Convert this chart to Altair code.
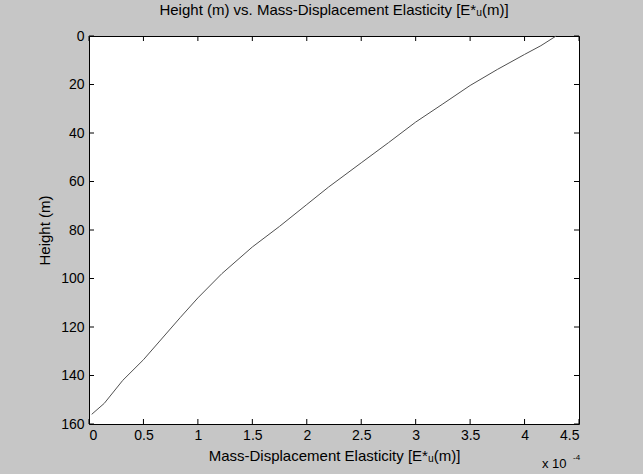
import altair as alt
import pandas as pd

# Mass-displacement elasticity (in units of 1e-4) against height in metres
elasticity = [0.025, 0.14, 0.31, 0.5, 0.84, 1.0, 1.22, 1.5, 1.75, 2.0,
              2.2, 2.5, 2.75, 3.0, 3.25, 3.5, 3.75, 4.0, 4.15, 4.29]
height_m = [156, 151.5, 142, 133.5, 116, 108, 98, 87, 78.5, 69.5,
            62.3, 52.3, 44, 35.5, 28, 20.4, 13.8, 7.6, 4, 0]

x_ticks = [0, 0.5, 1, 1.5, 2, 2.5, 3, 3.5, 4, 4.5]
y_ticks = [0, 20, 40, 60, 80, 100, 120, 140, 160]

W, H = 490, 388
FONT = "Liberation Sans, DejaVu Sans"
LABEL_SIZE = 14
TITLE_SIZE = 15
TICK = 5

xs = alt.Scale(domain=[0, 4.5], nice=False, zero=False)
ys = alt.Scale(domain=[0, 160], nice=False, reverse=True)

x_axis = alt.Axis(values=x_ticks, format="~g", ticks=False, domain=False,
                  grid=False, labelPadding=4, labelFontSize=LABEL_SIZE,
                  labelFont=FONT, labelColor="black",
                  title="Mass-Displacement Elasticity [E*ᵤ(m)]",
                  titleFont=FONT, titleFontSize=TITLE_SIZE,
                  titleFontWeight="normal", titleColor="black",
                  titleBaseline="alphabetic", titleY=36)
y_axis = alt.Axis(values=y_ticks, ticks=False, domain=False, grid=False,
                  labelPadding=5, labelFontSize=LABEL_SIZE, labelFont=FONT,
                  labelColor="black", title="Height (m)",
                  titleFont=FONT, titleFontSize=TITLE_SIZE,
                  titleFontWeight="normal", titleColor="black",
                  titleBaseline="middle", titleX=-45, titleY=H / 2,
                  titleAngle=-90)

curve_df = pd.DataFrame({"e": elasticity, "h": height_m})

curve = alt.Chart(curve_df).mark_line(color="#505050", strokeWidth=1).encode(
    x=alt.X("e:Q", scale=xs, axis=x_axis),
    y=alt.Y("h:Q", scale=ys, axis=y_axis),
)

xt_df = pd.DataFrame({"e": x_ticks})
yt_df = pd.DataFrame({"h": y_ticks})

# inward tick marks on all four sides of the box
x_bottom = alt.Chart(xt_df).mark_rule(color="black", strokeWidth=1).encode(
    x=alt.X("e:Q", scale=xs, axis=x_axis), y=alt.value(H), y2=alt.value(H - TICK))
x_top = alt.Chart(xt_df).mark_rule(color="black", strokeWidth=1).encode(
    x=alt.X("e:Q", scale=xs, axis=x_axis), y=alt.value(0), y2=alt.value(TICK))
y_left = alt.Chart(yt_df).mark_rule(color="black", strokeWidth=1).encode(
    y=alt.Y("h:Q", scale=ys, axis=y_axis), x=alt.value(0), x2=alt.value(TICK))
y_right = alt.Chart(yt_df).mark_rule(color="black", strokeWidth=1).encode(
    y=alt.Y("h:Q", scale=ys, axis=y_axis), x=alt.value(W), x2=alt.value(W - TICK))

# axis multiplier "x 10^-4"
mult = alt.Chart(pd.DataFrame({"s": ["x 10"]})).mark_text(
    font=FONT, fontSize=13, align="left", baseline="alphabetic", color="black"
).encode(text="s:N", x=alt.value(453), y=alt.value(432))
expo = alt.Chart(pd.DataFrame({"s": ["-4"]})).mark_text(
    font=FONT, fontSize=8, align="left", baseline="alphabetic", color="black"
).encode(text="s:N", x=alt.value(484), y=alt.value(424))

chart = alt.layer(curve, x_bottom, x_top, y_left, y_right, mult, expo).properties(
    width=W, height=H,
    title=alt.TitleParams(
        "Height (m) vs. Mass-Displacement Elasticity [E*ᵤ(m)]",
        font=FONT, fontSize=TITLE_SIZE, fontWeight="normal", color="black",
        anchor="middle", baseline="alphabetic", frame="group", offset=3, dy=4),
    autosize=alt.AutoSizeParams(type="none"),
    padding={"left": 89, "top": 36, "right": 64, "bottom": 50},
    background="#c6c6c6",
).configure_view(fill="white", stroke="black", strokeWidth=1)

chart.save("out.html", embed_options={"renderer": "svg", "actions": False})
